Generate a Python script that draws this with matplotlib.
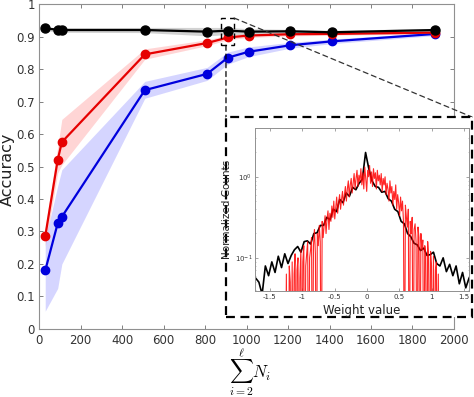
import numpy as np
import matplotlib
matplotlib.use("Agg")
import matplotlib.pyplot as plt
from matplotlib.patches import Rectangle, ConnectionPatch

plt.rcParams['mathtext.fontset'] = 'cm'
plt.rcParams['font.family'] = ['DejaVu Sans']

# ---------------- data ----------------
n_units = [30, 90, 110, 510, 810, 910, 1010, 1210, 1410, 1910]

acc_black = [0.925, 0.921, 0.920, 0.920, 0.915, 0.918, 0.915, 0.916, 0.913, 0.920]
acc_black_lo = [0.918, 0.914, 0.913, 0.912, 0.902, 0.906, 0.906, 0.909, 0.907, 0.914]
acc_black_hi = [0.930, 0.927, 0.927, 0.928, 0.928, 0.928, 0.924, 0.922, 0.919, 0.925]

acc_red = [0.285, 0.520, 0.575, 0.845, 0.880, 0.897, 0.903, 0.907, 0.908, 0.912]
acc_red_lo = [0.255, 0.480, 0.505, 0.830, 0.872, 0.890, 0.897, 0.902, 0.904, 0.908]
acc_red_hi = [0.310, 0.560, 0.645, 0.862, 0.890, 0.904, 0.909, 0.912, 0.912, 0.916]

acc_blue = [0.180, 0.325, 0.345, 0.735, 0.785, 0.835, 0.853, 0.873, 0.885, 0.908]
acc_blue_lo = [0.055, 0.125, 0.200, 0.710, 0.765, 0.815, 0.838, 0.864, 0.878, 0.903]
acc_blue_hi = [0.275, 0.440, 0.490, 0.762, 0.805, 0.852, 0.868, 0.882, 0.892, 0.913]

x_ticks = [0, 200, 400, 600, 800, 1000, 1200, 1400, 1600, 1800, 2000]
y_ticks = [0, 0.1, 0.2, 0.3, 0.4, 0.5, 0.6, 0.7, 0.8, 0.9, 1]
y_ticklabels = ['0', '0.1', '0.2', '0.3', '0.4', '0.5', '0.6', '0.7', '0.8', '0.9', '1']

# inset histograms (log10 of normalized counts; None = empty bin)
black_range = (-1.72, 1.58)
black_log = [-1.25, -1.3, -1.45, -1.1, -1.22, -1.05, -1.18, -0.98, -1.12, -0.95,
             -1.07, -0.97, -0.9, -0.86, -0.93, -0.8, -0.79, -0.83, -0.7, -0.69,
             -0.6, -0.6, -0.5, -0.53, -0.4, -0.43, -0.28, -0.32, -0.2, -0.24,
             -0.13, -0.16, -0.08, -0.03, 0.3, 0.1, -0.05, -0.12, -0.13, -0.19,
             -0.18, -0.27, -0.3, -0.4, -0.43, -0.55, -0.58, -0.7, -0.74, -0.82,
             -0.84, -0.91, -0.88, -0.97, -0.96, -0.93, -1.07, -1.1, -1.0, -1.17,
             -1.08, -1.22, -1.1, -1.32, -1.18, -1.37, -1.25]

red_range = (-1.26, 1.12)
red_log = [None, -1.2, None, None, -1.1, -1.3, None, -1.05, None, -1.2,
           -0.95, None, -1.15, -1.0, None, -1.25, -0.9, None, -1.05, -0.85,
           None, -1.1, -0.95, -0.8, None, -1.0, -0.9, -0.75, None, -0.85,
           -0.65, -0.95, None, -0.7, -0.85, -0.6, -0.8, None, -0.55, -0.75,
           -0.6, -0.48, -0.7, -0.52, -0.42, -0.65, -0.45, -0.55, -0.36, -0.5,
           -0.3, -0.52, -0.38, -0.25, -0.45, -0.32, -0.22, -0.4, -0.28, -0.18,
           -0.35, -0.22, -0.12, -0.3, -0.15, -0.05, -0.25, -0.1, -0.02, -0.2,
           -0.08, 0.04, -0.15, -0.02, 0.08, -0.12, 0.02, -0.06, 0.1, -0.1,
           0.05, -0.15, 0.12, -0.02, -0.18, 0.08, 0.0, 0.14, -0.08, 0.06,
           -0.12, 0.1, -0.02, 0.05, -0.15, 0.08, -0.05, 0.02, -0.1, 0.04,
           -0.18, -0.02, -0.1, 0.0, -0.22, -0.08, -0.15, -0.3, -0.05, -0.2,
           -0.12, -0.35, -0.18, -0.28, -0.1, -0.4, -0.22, -0.32, -0.48, -0.25,
           -0.42, -0.3, -0.55, None, -0.35, -0.5, -0.62, -0.4, None, -0.55,
           -0.7, -0.5, None, -0.65, -0.58, -0.8, None, -0.62, -0.75, None,
           -0.7, -0.9, -0.78, None, -0.85, -0.95, None, -0.8, -1.0, None,
           -0.92, -1.1, None, -0.98, None, -1.15, -1.05, None, -1.2, None]

inset_xticks = [-1.5, -1, -0.5, 0, 0.5, 1, 1.5]
inset_xticklabels = ['-1.5', '-1', '-0.5', '0', '0.5', '1', '1.5']

# ---------------- figure ----------------
fig = plt.figure(figsize=(4.74, 3.97), dpi=100)
ax = fig.add_axes([0.0823, 0.1713, 0.8755, 0.8186])

col_k = '#000000'
col_r = '#e60000'
col_b = '#0000dd'

ax.fill_between(n_units, acc_black_lo, acc_black_hi, color='#808080', alpha=0.35, lw=0)
ax.fill_between(n_units, acc_red_lo, acc_red_hi, color='#ff3030', alpha=0.2, lw=0)
ax.fill_between(n_units, acc_blue_lo, acc_blue_hi, color='#3030ff', alpha=0.2, lw=0)
ax.plot(n_units, acc_blue, '-o', color=col_b, lw=1.6, ms=6)
ax.plot(n_units, acc_red, '-o', color=col_r, lw=1.6, ms=6)
ax.plot(n_units, acc_black, '-o', color=col_k, lw=1.6, ms=6.5)

ax.set_xlim(0, 2000)
ax.set_ylim(0, 1)
ax.set_xticks(x_ticks)
ax.set_xticklabels([str(v) for v in x_ticks])
ax.set_yticks(y_ticks)
ax.set_yticklabels(y_ticklabels)
ax.tick_params(direction='in', length=3, width=0.7, colors='#808080',
               labelcolor='#333333', labelsize=8.5, top=True, right=True)
ax.tick_params(axis='y', pad=3)
for s in ax.spines.values():
    s.set_color('#909090')
    s.set_linewidth(0.8)
ax.set_ylabel('Accuracy', fontsize=11.5, color='#222222')
ax.yaxis.set_label_coords(-0.057, 0.49)
fig.text(0.527, 0.064, r'$\sum_{i=2}^{\ell} N_i$', fontsize=12, ha='center', va='center')

# zoom box on the main axes
ax.add_patch(Rectangle((877, 0.873), 63, 0.084, fill=False, ls=(0, (4, 3)),
                       lw=1.0, ec='black', zorder=5))

# big dashed box in figure coords
bx0, by0, bx1, by1 = 0.4768, 0.2015, 0.9958, 0.7053
fig.add_artist(Rectangle((bx0, by0), bx1 - bx0, by1 - by0, transform=fig.transFigure,
                         fill=True, fc='white', ec='black', lw=1.6, ls=(0, (4, 2.5)), zorder=3))
con1 = ConnectionPatch(xyA=(901, 0.873), coordsA=ax.transData,
                       xyB=(0.4768, by1), coordsB=fig.transFigure,
                       ls=(0, (4, 3)), lw=0.9, color='black')
con2 = ConnectionPatch(xyA=(940, 0.957), coordsA=ax.transData,
                       xyB=(bx1, by1), coordsB=fig.transFigure,
                       ls=(0, (4, 3)), lw=0.9, color='#333333')
fig.add_artist(con1)
fig.add_artist(con2)

# inset
ins = fig.add_axes([0.538, 0.267, 0.4515, 0.4106], zorder=4)
bx = np.linspace(black_range[0], black_range[1], len(black_log))
rx = np.linspace(red_range[0], red_range[1], len(red_log))
bvals = np.array([10 ** v for v in black_log])
rvals = np.array([1e-3 if v is None else 10 ** v for v in red_log])
ins.plot(bx, bvals, color='black', lw=1.2)
ins.plot(rx, rvals, color='#ff0000', lw=0.8, alpha=0.85)
ins.set_yscale('log')
ins.set_xlim(-1.73, 1.58)
ins.set_ylim(0.039, 4)
ins.set_xticks(inset_xticks)
ins.set_xticklabels(inset_xticklabels)
ins.tick_params(direction='in', length=2, width=0.5, colors='#808080',
                labelcolor='#333333', labelsize=5, top=True, right=True, pad=2)
ins.tick_params(which='minor', direction='in', length=1, width=0.4, colors='#909090',
                top=True, right=True)
for s in ins.spines.values():
    s.set_color('#909090')
    s.set_linewidth(0.7)
ins.set_xlabel('Weight value', fontsize=8.5, color='#222222', labelpad=3)
ins.set_ylabel('Normalized Counts', fontsize=7.5, color='#222222', labelpad=2)

fig.savefig('out.png', dpi=100)
